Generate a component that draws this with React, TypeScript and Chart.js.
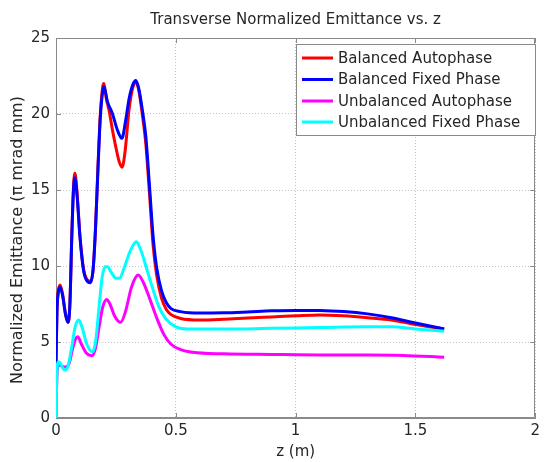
import React, { useEffect, useRef } from "react";
import { Chart, registerables } from "chart.js";

Chart.register(...registerables);

const TITLE = "Transverse Normalized Emittance vs. z";
const X_LABEL = "z (m)";
const Y_LABEL = "Normalized Emittance (\u03c0 mrad mm)";
const SERIES_NAMES = [
  "Balanced Autophase",
  "Balanced Fixed Phase",
  "Unbalanced Autophase",
  "Unbalanced Fixed Phase",
];
const SERIES_COLORS = ["#ff0000", "#0000ff", "#ff00ff", "#00ffff"];
const X_TICKS = [0, 0.5, 1, 1.5, 2];
const Y_TICKS = [0, 5, 10, 15, 20, 25];

// Balanced Autophase (red)
const balAutoZ = [0, 0.004, 0.01, 0.017, 0.027, 0.04, 0.05, 0.058, 0.066, 0.073, 0.079, 0.088, 0.1, 0.115, 0.13, 0.145, 0.155, 0.165, 0.175, 0.185, 0.195, 0.2, 0.21, 0.222, 0.235, 0.25, 0.265, 0.276, 0.288, 0.305, 0.32, 0.333, 0.345, 0.36, 0.375, 0.39, 0.405, 0.42, 0.44, 0.46, 0.48, 0.52, 0.6, 0.7, 0.8, 0.9, 1.0, 1.1, 1.2, 1.3, 1.4, 1.5, 1.62];
const balAutoV = [3.6, 7.0, 8.4, 8.75, 8.2, 6.8, 6.3, 7.5, 12.0, 15.2, 16.1, 14.8, 12.0, 9.8, 9.1, 9.0, 9.8, 12.5, 16.5, 20.0, 21.8, 22.0, 21.0, 20.2, 19.0, 17.8, 16.8, 16.5, 17.5, 20.3, 21.7, 22.1, 21.6, 20.0, 18.0, 14.8, 11.4, 9.4, 7.9, 7.15, 6.8, 6.55, 6.45, 6.5, 6.58, 6.65, 6.72, 6.78, 6.72, 6.6, 6.45, 6.15, 5.85];

// Balanced Fixed Phase (blue)
const balFixedZ = [0, 0.004, 0.01, 0.017, 0.027, 0.04, 0.05, 0.058, 0.066, 0.073, 0.079, 0.088, 0.1, 0.115, 0.13, 0.143, 0.155, 0.165, 0.175, 0.185, 0.195, 0.2, 0.215, 0.236, 0.255, 0.275, 0.29, 0.305, 0.32, 0.333, 0.345, 0.36, 0.375, 0.39, 0.405, 0.42, 0.44, 0.46, 0.48, 0.52, 0.6, 0.7, 0.8, 0.9, 1.0, 1.1, 1.2, 1.3, 1.4, 1.5, 1.62];
const balFixedV = [3.6, 7.0, 8.3, 8.6, 8.1, 6.8, 6.3, 7.5, 12.0, 15.0, 15.8, 14.6, 11.9, 9.7, 9.0, 8.9, 9.8, 12.5, 16.3, 19.8, 21.5, 21.8, 20.8, 20.0, 19.0, 18.4, 19.5, 21.0, 21.9, 22.2, 21.7, 20.3, 18.5, 15.3, 12.0, 9.9, 8.4, 7.6, 7.2, 7.0, 6.9, 6.92, 6.98, 7.05, 7.08, 7.07, 7.0, 6.85, 6.6, 6.25, 5.85];

// Unbalanced Autophase (magenta)
const unbAutoZ = [0, 0.004, 0.012, 0.025, 0.04, 0.055, 0.07, 0.082, 0.091, 0.105, 0.125, 0.149, 0.165, 0.18, 0.195, 0.212, 0.225, 0.245, 0.27, 0.29, 0.315, 0.343, 0.365, 0.39, 0.42, 0.45, 0.48, 0.52, 0.57, 0.7, 0.9, 1.1, 1.3, 1.45, 1.62];
const unbAutoV = [0, 2.8, 3.5, 3.4, 3.35, 3.6, 4.6, 5.2, 5.35, 4.9, 4.3, 4.1, 4.6, 6.0, 7.3, 7.8, 7.5, 6.7, 6.3, 7.0, 8.6, 9.4, 8.9, 7.9, 6.6, 5.5, 4.85, 4.5, 4.32, 4.22, 4.18, 4.15, 4.15, 4.12, 4.0];

// Unbalanced Fixed Phase (cyan)
const unbFixedZ = [0, 0.004, 0.01, 0.018, 0.028, 0.037, 0.05, 0.065, 0.08, 0.095, 0.11, 0.13, 0.152, 0.165, 0.178, 0.192, 0.205, 0.215, 0.23, 0.25, 0.265, 0.285, 0.31, 0.335, 0.355, 0.375, 0.4, 0.43, 0.46, 0.5, 0.55, 0.7, 0.9, 1.1, 1.3, 1.4, 1.5, 1.62];
const unbFixedV = [0, 3.0, 3.7, 3.6, 3.3, 3.15, 3.4, 4.6, 6.0, 6.45, 5.9, 4.8, 4.35, 5.0, 7.0, 9.2, 9.95, 9.95, 9.6, 9.2, 9.2, 9.9, 11.0, 11.6, 11.0, 10.0, 8.7, 7.3, 6.5, 6.0, 5.85, 5.85, 5.9, 5.95, 6.0, 6.0, 5.85, 5.7];

const SERIES_Z = [balAutoZ, balFixedZ, unbAutoZ, unbFixedZ];
const SERIES_V = [balAutoV, balFixedV, unbAutoV, unbFixedV];
const DRAW_ORDER = [3, 2, 1, 0]; // cyan on top

const FONT_FAMILY = "'DejaVu Sans', 'Liberation Sans', Arial, sans-serif";
const TEXT_COLOR = "#262626";
const FRAME_COLOR = "#8a8a8a";
const GRID_COLOR = "#c4c4c4";

const framePlugin = {
  id: "matlabFrame",
  beforeDatasetsDraw(chart: any) {
    const { ctx, chartArea } = chart;
    const { left, right, top, bottom } = chartArea;
    const xs = chart.scales.x;
    const ys = chart.scales.y;
    ctx.save();
    ctx.strokeStyle = FRAME_COLOR;
    ctx.lineWidth = 1;
    ctx.beginPath();
    ctx.rect(Math.round(left) + 0.5, Math.round(top) + 0.5, Math.round(right - left) - 1, Math.round(bottom - top) - 1);
    ctx.stroke();
    const tl = 5;
    ctx.beginPath();
    X_TICKS.forEach((t) => {
      const px = Math.round(xs.getPixelForValue(t)) + 0.5;
      ctx.moveTo(px, bottom);
      ctx.lineTo(px, bottom - tl);
      ctx.moveTo(px, top);
      ctx.lineTo(px, top + tl);
    });
    Y_TICKS.forEach((t) => {
      const py = Math.round(ys.getPixelForValue(t)) + 0.5;
      ctx.moveTo(left, py);
      ctx.lineTo(left + tl, py);
      ctx.moveTo(right, py);
      ctx.lineTo(right - tl, py);
    });
    ctx.stroke();
    ctx.restore();
  },
  afterDatasetsDraw(chart: any) {
    const { ctx, chartArea } = chart;
    ctx.save();
    // Legend box
    const bx = 296, by = 44, bw = 240, bh = 92;
    ctx.fillStyle = "#ffffff";
    ctx.fillRect(bx, by, bw, bh);
    ctx.strokeStyle = FRAME_COLOR;
    ctx.lineWidth = 1;
    ctx.strokeRect(bx + 0.5, by + 0.5, bw - 1, bh - 1);
    const rows = [58, 79.5, 101, 122];
    ctx.font = `15px ${FONT_FAMILY}`;
    ctx.textBaseline = "middle";
    ctx.textAlign = "left";
    SERIES_NAMES.forEach((name, i) => {
      const y = rows[i];
      ctx.strokeStyle = SERIES_COLORS[i];
      ctx.lineWidth = 3;
      ctx.beginPath();
      ctx.moveTo(302, y);
      ctx.lineTo(333, y);
      ctx.stroke();
      ctx.fillStyle = TEXT_COLOR;
      ctx.fillText(name, 338, y + 1);
    });
    // Title
    ctx.fillStyle = TEXT_COLOR;
    ctx.textAlign = "center";
    ctx.textBaseline = "middle";
    ctx.fillText(TITLE, (chartArea.left + chartArea.right) / 2, 20);
    // X label
    ctx.fillText(X_LABEL, (chartArea.left + chartArea.right) / 2, 452);
    // Y label
    ctx.font = `16px ${FONT_FAMILY}`;
    ctx.translate(18, 240);
    ctx.rotate(-Math.PI / 2);
    ctx.fillText(Y_LABEL, 0, 0);
    ctx.restore();
  },
};

export default function App() {
  const ref = useRef<HTMLCanvasElement>(null);
  useEffect(() => {
    const canvas = ref.current;
    if (!canvas) return;
    const datasets = SERIES_NAMES.map((name, i) => ({
      label: name,
      data: SERIES_Z[i].map((z, k) => ({ x: z, y: SERIES_V[i][k] })),
      borderColor: SERIES_COLORS[i],
      backgroundColor: SERIES_COLORS[i],
      borderWidth: 3,
      pointRadius: 0,
      fill: false,
      cubicInterpolationMode: "monotone" as const,
      order: DRAW_ORDER[i],
    }));
    const tickFont = { family: FONT_FAMILY, size: 15 };
    const chart = new Chart(canvas, {
      type: "line",
      data: { datasets },
      options: {
        responsive: false,
        animation: false,
        devicePixelRatio: 1,
        layout: { padding: { top: 38, right: 4, left: 0, bottom: 0 } },
        plugins: {
          legend: { display: false },
          title: { display: false },
          tooltip: { enabled: false },
        },
        scales: {
          x: {
            type: "linear",
            min: 0,
            max: 2,
            afterFit: (s: any) => {
              s.height = 44;
            },
            afterBuildTicks: (s: any) => {
              s.ticks = X_TICKS.map((v) => ({ value: v }));
            },
            ticks: {
              font: tickFont,
              color: TEXT_COLOR,
              padding: 4,
              maxRotation: 0,
              callback: (v: any) => String(v),
            },
            grid: { color: GRID_COLOR, drawTicks: false, lineWidth: 1 },
            border: { display: true, color: FRAME_COLOR, dash: [1, 2] },
          },
          y: {
            type: "linear",
            min: 0,
            max: 25,
            afterFit: (s: any) => {
              s.width = 56;
            },
            afterBuildTicks: (s: any) => {
              s.ticks = Y_TICKS.map((v) => ({ value: v }));
            },
            ticks: {
              font: tickFont,
              color: TEXT_COLOR,
              padding: 6,
              callback: (v: any) => String(v),
            },
            grid: { color: GRID_COLOR, drawTicks: false, lineWidth: 1 },
            border: { display: true, color: FRAME_COLOR, dash: [1, 2] },
          },
        },
      },
      plugins: [framePlugin],
    });
    return () => chart.destroy();
  }, []);
  return (
    <canvas
      ref={ref}
      width={544}
      height={462}
      style={{ position: "absolute", left: 0, top: 0, display: "block", width: 544, height: 462 }}
    />
  );
}
